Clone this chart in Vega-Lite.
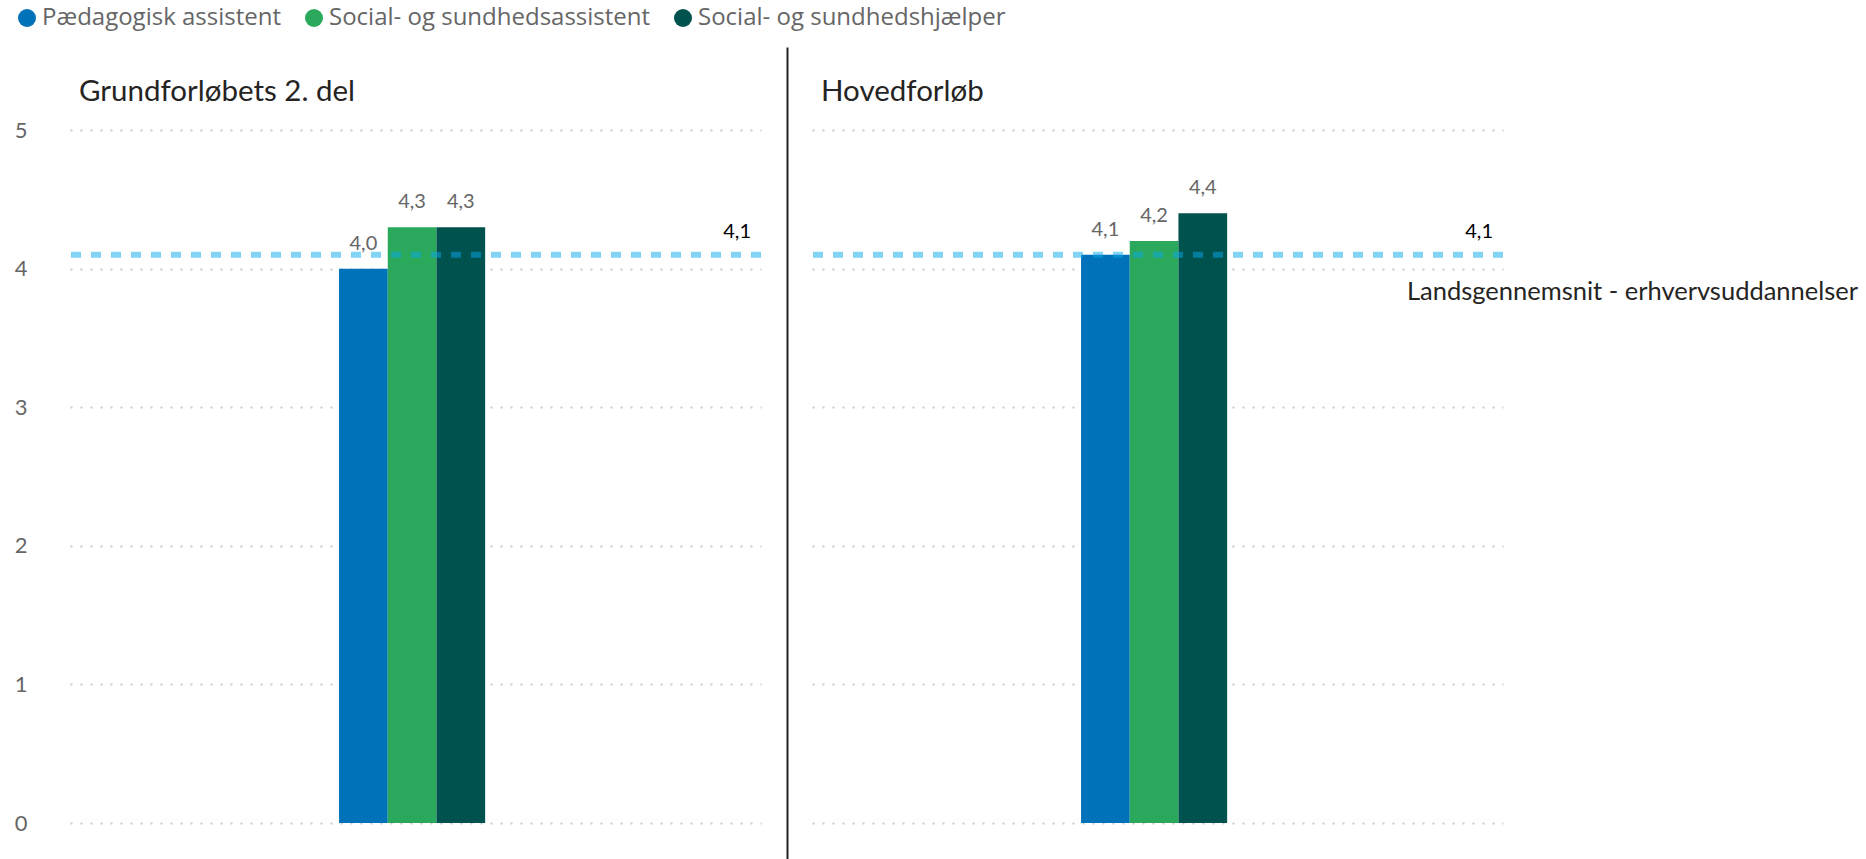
{
  "$schema": "https://vega.github.io/schema/vega-lite/v6.json",
  "padding": {"left": 14, "top": 6, "right": 0, "bottom": 0},
  "config": {
    "locale": {"number": {"decimal": ",", "thousands": ".", "grouping": [3], "currency": ["", " kr."]}},
    "font": "Lato",
    "view": {"stroke": null},
    "title": {"font": "Lato", "fontSize": 29.5, "fontWeight": "normal", "color": "#252423", "anchor": "start", "frame": "group", "offset": -60, "dx": 9}
  },
  "datasets": {
    "bars": [
      {"phase": "Grundforløbets 2. del", "type": "Pædagogisk assistent", "value": 4.0},
      {"phase": "Grundforløbets 2. del", "type": "Social- og sundhedsassistent", "value": 4.3},
      {"phase": "Grundforløbets 2. del", "type": "Social- og sundhedshjælper", "value": 4.3},
      {"phase": "Hovedforløb", "type": "Pædagogisk assistent", "value": 4.1},
      {"phase": "Hovedforløb", "type": "Social- og sundhedsassistent", "value": 4.2},
      {"phase": "Hovedforløb", "type": "Social- og sundhedshjælper", "value": 4.4}
    ],
    "ref": [
      {"phase": "Grundforløbets 2. del", "value": 4.1, "label": "Landsgennemsnit - erhvervsuddannelser"},
      {"phase": "Hovedforløb", "value": 4.1, "label": "Landsgennemsnit - erhvervsuddannelser"}
    ]
  },
  "spacing": 51,
  "bounds": "flush",
  "hconcat": [
    {
      "width": 691,
      "height": 813,
      "title": {"text": "Grundforløbets 2. del"},
      "layer": [
        {
          "data": {"name": "bars"},
          "transform": [{"filter": "datum.phase === 'Grundforløbets 2. del'"}],
          "mark": {"type": "bar"},
          "encoding": {
            "x": {"field": "phase", "type": "nominal", "axis": null,
              "scale": {"paddingInner": 0, "paddingOuter": 1, "align": 0.4926}},
            "xOffset": {"field": "type", "type": "nominal",
              "scale": {"domain": ["Pædagogisk assistent", "Social- og sundhedsassistent", "Social- og sundhedshjælper"], "paddingInner": 0, "paddingOuter": 0.865}},
            "y": {"field": "value", "type": "quantitative",
              "scale": {"domain": [-0.267, 5.6], "nice": false, "zero": false},
              "axis": {"values": [0, 1, 2, 3, 4, 5], "format": "d", "title": null, "domain": false, "ticks": false, "labelPadding": 43, "labelFontSize": 22, "labelColor": "#666666", "labelFont": "Lato", "grid": true, "gridDash": [2, 8], "gridColor": "#c8c8c8", "gridWidth": 2}},
            "y2": {"datum": 0},
            "color": {"field": "type", "type": "nominal",
              "scale": {"domain": ["Pædagogisk assistent", "Social- og sundhedsassistent", "Social- og sundhedshjælper"], "range": ["#0072BA", "#2AA95D", "#00524E"]},
              "legend": {"orient": "none", "legendX": -55, "legendY": -41, "direction": "horizontal", "title": null, "symbolType": "circle", "symbolSize": 324, "symbolStrokeWidth": 0, "symbolOpacity": 1, "labelFontSize": 24, "labelColor": "#666666", "labelFont": "Open Sans", "labelLimit": 600, "columnPadding": 20, "labelOffset": 3}}
          }
        },
        {
          "data": {"name": "bars"},
          "transform": [{"filter": "datum.phase === 'Grundforløbets 2. del'"}],
          "mark": {"type": "text", "dy": -19, "baseline": "alphabetic", "fontSize": 20, "color": "#666666"},
          "encoding": {
            "x": {"field": "phase", "type": "nominal"},
            "xOffset": {"field": "type", "type": "nominal"},
            "y": {"field": "value", "type": "quantitative"},
            "text": {"field": "value", "type": "quantitative", "format": ".1f"}
          }
        },
        {
          "data": {"name": "ref"},
          "transform": [{"filter": "datum.phase === 'Grundforløbets 2. del'"}],
          "mark": {"type": "rule", "strokeDash": [10, 10], "strokeWidth": 6, "color": "#07A7EB", "opacity": 0.5},
          "encoding": {"y": {"field": "value", "type": "quantitative"}}
        },
        {
          "data": {"name": "ref"},
          "transform": [{"filter": "datum.phase === 'Grundforløbets 2. del'"}],
          "mark": {"type": "text", "align": "right", "dx": -10, "dy": -17, "baseline": "alphabetic", "fontSize": 20, "color": "#000000"},
          "encoding": {
            "x": {"value": "width"},
            "y": {"field": "value", "type": "quantitative"},
            "text": {"field": "value", "type": "quantitative", "format": ".1f"}
          }
        }
      ]
    },
    {
      "width": 691,
      "height": 813,
      "title": {"text": "Hovedforløb"},
      "layer": [
        {
          "data": {"name": "bars"},
          "transform": [{"filter": "datum.phase === 'Hovedforløb'"}],
          "mark": {"type": "bar"},
          "encoding": {
            "x": {"field": "phase", "type": "nominal", "axis": null,
              "scale": {"paddingInner": 0, "paddingOuter": 1, "align": 0.4926}},
            "xOffset": {"field": "type", "type": "nominal",
              "scale": {"domain": ["Pædagogisk assistent", "Social- og sundhedsassistent", "Social- og sundhedshjælper"], "paddingInner": 0, "paddingOuter": 0.865}},
            "y": {"field": "value", "type": "quantitative",
              "scale": {"domain": [-0.267, 5.6], "nice": false, "zero": false},
              "axis": {"values": [0, 1, 2, 3, 4, 5], "title": null, "domain": true, "domainColor": "#252423", "domainWidth": 2, "offset": 25, "labels": false, "ticks": false, "grid": true, "gridDash": [2, 8], "gridColor": "#c8c8c8", "gridWidth": 2}},
            "y2": {"datum": 0},
            "color": {"field": "type", "type": "nominal"}
          }
        },
        {
          "data": {"name": "bars"},
          "transform": [{"filter": "datum.phase === 'Hovedforløb'"}],
          "mark": {"type": "text", "dy": -19, "baseline": "alphabetic", "fontSize": 20, "color": "#666666"},
          "encoding": {
            "x": {"field": "phase", "type": "nominal"},
            "xOffset": {"field": "type", "type": "nominal"},
            "y": {"field": "value", "type": "quantitative"},
            "text": {"field": "value", "type": "quantitative", "format": ".1f"}
          }
        },
        {
          "data": {"name": "ref"},
          "transform": [{"filter": "datum.phase === 'Hovedforløb'"}],
          "mark": {"type": "rule", "strokeDash": [10, 10], "strokeWidth": 6, "color": "#07A7EB", "opacity": 0.5},
          "encoding": {"y": {"field": "value", "type": "quantitative"}}
        },
        {
          "data": {"name": "ref"},
          "transform": [{"filter": "datum.phase === 'Hovedforløb'"}],
          "mark": {"type": "text", "align": "right", "dx": -10, "dy": -17, "baseline": "alphabetic", "fontSize": 20, "color": "#000000"},
          "encoding": {
            "x": {"value": "width"},
            "y": {"field": "value", "type": "quantitative"},
            "text": {"field": "value", "type": "quantitative", "format": ".1f"}
          }
        },
        {
          "data": {"name": "ref"},
          "transform": [{"filter": "datum.phase === 'Hovedforløb'"}],
          "mark": {"type": "text", "align": "left", "dx": -96, "dy": 45, "baseline": "alphabetic", "fontSize": 25.5, "color": "#252423"},
          "encoding": {
            "x": {"value": "width"},
            "y": {"field": "value", "type": "quantitative"},
            "text": {"field": "label", "type": "nominal"}
          }
        }
      ]
    }
  ]
}
